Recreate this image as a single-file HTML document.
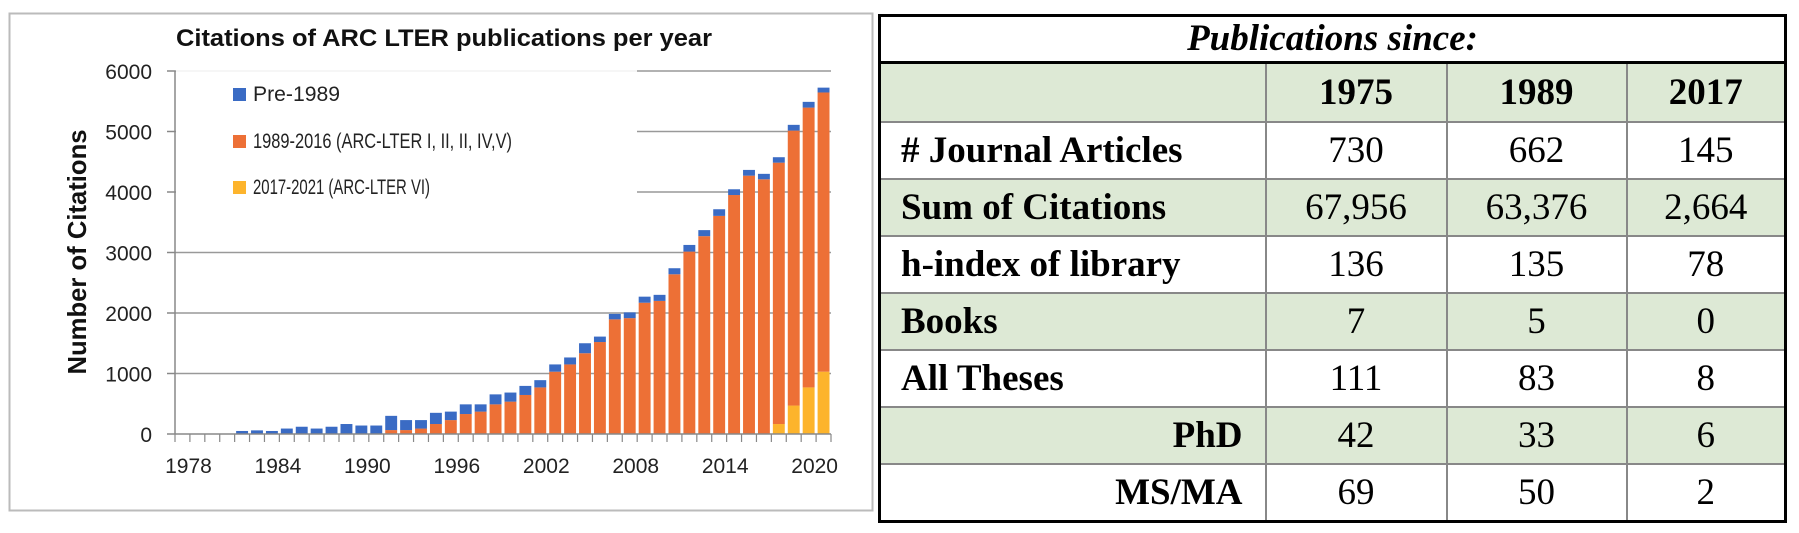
<!DOCTYPE html>
<html><head><meta charset="utf-8">
<style>
html,body{margin:0;padding:0;background:#fff;width:1799px;height:533px;overflow:hidden;}
#chart{position:absolute;left:0;top:0;}
table{position:absolute;left:878px;top:14px;width:906px;border-collapse:collapse;border:3px solid #000;font-family:"Liberation Serif",serif;font-size:37px;color:#000;table-layout:fixed;}
td{border:2px solid #888;text-align:center;padding:0;height:55px;line-height:55px;overflow:hidden;white-space:nowrap;}
td.lab{text-align:left;font-weight:bold;padding-left:20px;}
td.sub{text-align:right;font-weight:bold;padding-right:22px;}
tr.g td{background:#dde9d5;}
tr.hdr td{font-weight:bold;height:57px;}
td.title{font-weight:bold;font-style:italic;height:44px;line-height:44px;border-bottom:3px solid #000;}
</style></head><body>
<svg id="chart" width="880" height="533">
<rect x="9.5" y="13.5" width="863" height="497" fill="#fff" stroke="#bbb" stroke-width="2"/>
<text x="444" y="46" text-anchor="middle" font-family="Liberation Sans, sans-serif" font-weight="bold" font-size="24" textLength="536" lengthAdjust="spacingAndGlyphs" fill="#111">Citations of ARC LTER publications per year</text>
<text transform="translate(86,252) rotate(-90)" text-anchor="middle" font-family="Liberation Sans, sans-serif" font-weight="bold" font-size="26" textLength="245" lengthAdjust="spacingAndGlyphs" fill="#111">Number of Citations</text>
<g id="grid"></g><g id="bars"></g><g id="axes"></g>
<g>
<rect x="176" y="70" width="461" height="160" fill="#fff"/>
<line x1="176" y1="71" x2="637" y2="71" stroke="#eee" stroke-width="1"/>
<rect x="233" y="88" width="13" height="13" fill="#3a6bc4"/>
<text x="253" y="101" font-family="Liberation Sans, sans-serif" font-size="21" fill="#222" textLength="87" lengthAdjust="spacingAndGlyphs">Pre-1989</text>
<rect x="233" y="135" width="13" height="13" fill="#ed7036"/>
<text x="253" y="148" font-family="Liberation Sans, sans-serif" font-size="21" fill="#222" textLength="259" lengthAdjust="spacingAndGlyphs">1989-2016 (ARC-LTER I, II, II, IV,V)</text>
<rect x="233" y="181" width="13" height="13" fill="#fdb42c"/>
<text x="253" y="194" font-family="Liberation Sans, sans-serif" font-size="21" fill="#222" textLength="177" lengthAdjust="spacingAndGlyphs">2017-2021 (ARC-LTER VI)</text>
</g>
</svg>
<script>
const years=[1978,1979,1980,1981,1982,1983,1984,1985,1986,1987,1988,1989,1990,1991,1992,1993,1994,1995,1996,1997,1998,1999,2000,2001,2002,2003,2004,2005,2006,2007,2008,2009,2010,2011,2012,2013,2014,2015,2016,2017,2018,2019,2020,2021];
const pre1989=[4,4,4,5,50,60,50,90,120,90,120,165,140,140,235,165,140,185,140,160,120,165,150,150,120,120,115,165,90,90,95,100,100,100,110,100,110,95,95,90,90,95,95,80];
const arc1989_2016=[0,0,0,0,0,0,0,0,0,0,0,0,0,0,65,65,90,165,230,330,370,490,535,645,770,1030,1150,1335,1520,1895,1915,2170,2200,2640,3015,3270,3605,3950,4270,4210,4320,4545,4625,4615];
const arc2017_2021=[0,0,0,0,0,0,0,0,0,0,0,0,0,0,0,0,0,0,0,0,0,0,0,0,0,0,0,0,0,0,0,0,0,0,0,0,0,0,0,0,165,470,770,1030];
const yTicks=[0,1000,2000,3000,4000,5000,6000];
const xLabelYears=[1978,1984,1990,1996,2002,2008,2014,2020];
const NS='http://www.w3.org/2000/svg';
const X0=175,X1=831,Y0=434,YTOP=71,YMAX=6000;
const band=(X1-X0)/years.length;
const xs=i=>X0+band*i;
const ys=v=>Y0-(Y0-YTOP)*v/YMAX;
function mk(tag,attrs,parent){const e=document.createElementNS(NS,tag);for(const k in attrs)e.setAttribute(k,attrs[k]);parent.appendChild(e);return e;}
const grid=document.getElementById('grid'),bars=document.getElementById('bars'),axes=document.getElementById('axes');
yTicks.forEach(t=>{
  if(t>0){const l=mk('line',{x1:X0,x2:X1,y1:ys(t),y2:ys(t),stroke:'#999','stroke-width':1.5},grid);
  
  }
  const tk=mk('line',{x1:X0-8,x2:X0,y1:ys(t),y2:ys(t),stroke:'#888','stroke-width':1.5},axes);
  
  
  const tx=mk('text',{x:X0-23,y:ys(t)+8,'text-anchor':'end','font-family':'Liberation Sans, sans-serif','font-size':21,fill:'#222'},axes);
  tx.textContent=t;
  
  
});
years.forEach((y,i)=>{
  const x=xs(i)+1.5,w=band-3;
  let base=0;
  [[arc2017_2021[i],'#fdb42c','bar-2017-2021-'],[arc1989_2016[i],'#ed7036','bar-1989-2016-'],[pre1989[i],'#3a6bc4','bar-pre-1989-']].forEach(s=>{
    if(s[0]>0){const r=mk('rect',{x:x,width:w,y:ys(base+s[0]),height:ys(base)-ys(base+s[0]),fill:s[1]},bars);
    
    }
    base+=s[0];
  });
});
const ax=mk('line',{x1:X0,x2:X1,y1:Y0,y2:Y0,stroke:'#888','stroke-width':1.5},axes);


const ay=mk('line',{x1:X0,x2:X0,y1:YTOP,y2:Y0,stroke:'#888','stroke-width':1.5},axes);


for(let i=0;i<=years.length;i++){const t=mk('line',{x1:xs(i),x2:xs(i),y1:Y0,y2:Y0+8,stroke:'#888','stroke-width':1.2},axes);

}
xLabelYears.forEach(yr=>{const i=years.indexOf(yr);
  const t=mk('text',{x:xs(i)+band/2+6,y:473,'text-anchor':'middle','font-family':'Liberation Sans, sans-serif','font-size':21,fill:'#222'},axes);
  t.textContent=yr;
  
  });
</script>
<table>
<colgroup><col style="width:386px"><col style="width:181px"><col style="width:180px"><col style="width:159px"></colgroup>
<tr><td class="title" colspan="4">Publications since:</td></tr>
<tr class="g hdr"><td></td><td>1975</td><td>1989</td><td>2017</td></tr>
<tr><td class="lab"># Journal Articles</td><td>730</td><td>662</td><td>145</td></tr>
<tr class="g"><td class="lab">Sum of Citations</td><td>67,956</td><td>63,376</td><td>2,664</td></tr>
<tr><td class="lab">h-index of library</td><td>136</td><td>135</td><td>78</td></tr>
<tr class="g"><td class="lab">Books</td><td>7</td><td>5</td><td>0</td></tr>
<tr><td class="lab">All Theses</td><td>111</td><td>83</td><td>8</td></tr>
<tr class="g"><td class="sub">PhD</td><td>42</td><td>33</td><td>6</td></tr>
<tr><td class="sub">MS/MA</td><td>69</td><td>50</td><td>2</td></tr>
</table>
</body></html>
